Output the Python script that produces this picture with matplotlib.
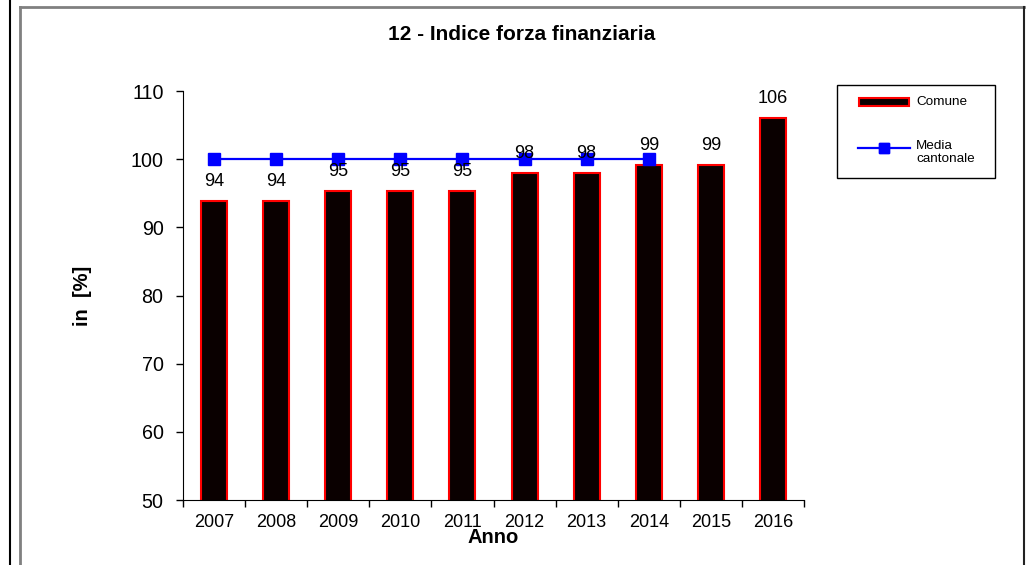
import numpy as np
import matplotlib
matplotlib.use("Agg")
import matplotlib.pyplot as plt
from matplotlib.lines import Line2D
from matplotlib.patches import Rectangle

plt.rcParams['font.family'] = ['Liberation Sans', 'DejaVu Sans']

years = ["2007", "2008", "2009", "2010", "2011", "2012", "2013", "2014", "2015", "2016"]
comune = [93.9, 93.9, 95.3, 95.3, 95.3, 98.0, 98.0, 99.2, 99.2, 106.0]
media_cantonale = [100, 100, 100, 100, 100, 100, 100, 100]

W, H = 1032, 565
BAR_FILL = "#0a0000"
fig = plt.figure(figsize=(W / 100, H / 100), dpi=100)


# helpers working in pixel coords (y from the top)
def fx(px):
    return px / W


def fy(py):
    return 1 - py / H


def px_line(x0, y0, x1, y1, color, lw, **kw):
    fig.add_artist(Line2D([fx(x0), fx(x1)], [fy(y0), fy(y1)],
                          transform=fig.transFigure, color=color, lw=lw, **kw))


# outer frame
px_line(10, 0, 10, H, "black", 1.5)
px_line(20, 7, 1024, 7, "#808080", 2.0)
px_line(20, 7, 20, H, "#808080", 2.0)
px_line(1024, 7, 1024, H, "#222222", 1.5)

ax = fig.add_axes([fx(183), fy(500), (804 - 183) / W, (500 - 91) / H])

x = np.arange(len(years))
ax.bar(x, comune, width=0.42, color=BAR_FILL, edgecolor="red",
       linewidth=1.5, zorder=2)
ax.plot(x[:len(media_cantonale)], media_cantonale, color="blue", lw=1.6,
        marker="s", markersize=8.5, zorder=3)

for xi, v in zip(x, comune):
    ax.annotate(f"{v:.0f}", (xi, v), xytext=(0, 14), textcoords="offset points",
                ha="center", va="center", fontsize=13, zorder=4)

ax.set_xlim(-0.5, len(years) - 0.5)
ax.set_ylim(50, 110)
ax.set_yticks(np.arange(50, 111, 10))
ax.set_xticks(x)
ax.set_xticklabels(years)
ax.set_xticks(np.arange(-0.5, len(years), 1), minor=True)
ax.tick_params(axis="x", which="major", length=0, labelsize=13, pad=10)
ax.tick_params(axis="x", which="minor", length=5, width=1)
ax.tick_params(axis="y", length=5, width=1, labelsize=14.2, pad=9)
for s in ["top", "right"]:
    ax.spines[s].set_visible(False)

ax.set_xlabel("Anno", fontsize=14.5, fontweight="bold")
ax.xaxis.set_label_coords(0.5, -0.068)
ax.set_ylabel("in  [%]", fontsize=14.5, fontweight="bold")
ax.yaxis.set_label_coords(-0.147, 0.5)

fig.text(fx(522), fy(35), "12 - Indice forza finanziaria", ha="center",
         va="center", fontsize=15, fontweight="bold")

# legend box drawn by hand so the line handle sits on the first text line
fig.add_artist(Rectangle((fx(837), fy(178)), (995 - 837) / W, (178 - 85) / H,
                         transform=fig.transFigure, fill=False,
                         edgecolor="black", lw=1.0))
fig.add_artist(Rectangle((fx(859), fy(106)), (909 - 859) / W, 8 / H,
                         transform=fig.transFigure, facecolor=BAR_FILL,
                         edgecolor="red", lw=1.5))
fig.text(fx(916), fy(102), "Comune", ha="left", va="center", fontsize=9.7)
px_line(858, 148, 910, 148, "blue", 1.6)
px_line(884, 148, 884, 148, "blue", 0, marker="s", markersize=7.5)
fig.text(fx(916), fy(140), "Media\ncantonale", ha="left", va="top",
         fontsize=9.7, linespacing=1.15)

fig.savefig("out.png", dpi=100)
